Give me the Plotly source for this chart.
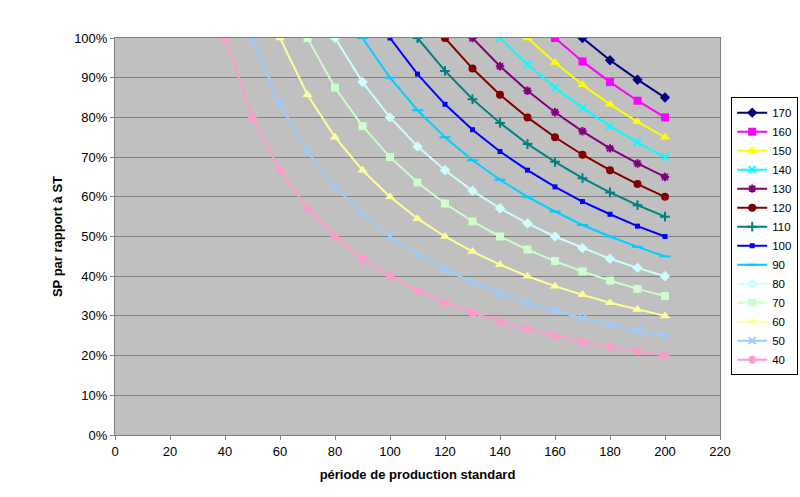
import plotly.graph_objects as go

# périodes de production standard (axe des x)
periods = [40, 50, 60, 70, 80, 90, 100, 110, 120, 130, 140, 150, 160, 170, 180, 190, 200]

# SP par rapport à ST, une série par ST (chaque série finit à 200)
series_names = ["170", "160", "150", "140", "130", "120", "110", "100", "90", "80", "70", "60", "50", "40"]
sp_170 = [1.0, 0.944, 0.895, 0.85]
sp_160 = [1.0, 0.941, 0.889, 0.842, 0.8]
sp_150 = [1.0, 0.938, 0.882, 0.833, 0.789, 0.75]
sp_140 = [1.0, 0.933, 0.875, 0.824, 0.778, 0.737, 0.7]
sp_130 = [1.0, 0.929, 0.867, 0.813, 0.765, 0.722, 0.684, 0.65]
sp_120 = [1.0, 0.923, 0.857, 0.8, 0.75, 0.706, 0.667, 0.632, 0.6]
sp_110 = [1.0, 0.917, 0.846, 0.786, 0.733, 0.688, 0.647, 0.611, 0.579, 0.55]
sp_100 = [1.0, 0.909, 0.833, 0.769, 0.714, 0.667, 0.625, 0.588, 0.556, 0.526, 0.5]
sp_90 = [1.0, 0.9, 0.818, 0.75, 0.692, 0.643, 0.6, 0.563, 0.529, 0.5, 0.474, 0.45]
sp_80 = [1.0, 0.889, 0.8, 0.727, 0.667, 0.615, 0.571, 0.533, 0.5, 0.471, 0.444, 0.421, 0.4]
sp_70 = [1.0, 0.875, 0.778, 0.7, 0.636, 0.583, 0.538, 0.5, 0.467, 0.438, 0.412, 0.389, 0.368, 0.35]
sp_60 = [1.0, 0.857, 0.75, 0.667, 0.6, 0.545, 0.5, 0.462, 0.429, 0.4, 0.375, 0.353, 0.333, 0.316, 0.3]
sp_50 = [1.0, 0.833, 0.714, 0.625, 0.556, 0.5, 0.455, 0.417, 0.385, 0.357, 0.333, 0.313, 0.294, 0.278,
         0.263, 0.25]
sp_40 = [1.0, 0.8, 0.667, 0.571, 0.5, 0.444, 0.4, 0.364, 0.333, 0.308, 0.286, 0.267, 0.25, 0.235,
         0.222, 0.211, 0.2]
series_values = [sp_170, sp_160, sp_150, sp_140, sp_130, sp_120, sp_110, sp_100, sp_90, sp_80,
                 sp_70, sp_60, sp_50, sp_40]

# style Excel : couleur, symbole, taille du marqueur
styles = [
    ("#000080", "diamond", 8),
    ("#FF00FF", "square", 8),
    ("#FFFF00", "triangle-up", 9),
    ("#00FFFF", "x-thin-open", 7),
    ("#800080", "asterisk-open", 7),
    ("#800000", "circle", 8),
    ("#008080", "cross-thin-open", 7),
    ("#0000FF", "square", 5),
    ("#00CCFF", "line-ew-open", 8),
    ("#CCFFFF", "diamond", 8),
    ("#CCFFCC", "square", 8),
    ("#FFFF99", "triangle-up", 9),
    ("#99CCFF", "x-thin-open", 7),
    ("#FF99CC", "asterisk-open", 7),
]

fig = go.Figure()
for name, vals, (col, sym, size) in zip(series_names, series_values, styles):
    xs = periods[len(periods) - len(vals):]
    open_sym = sym.endswith("open")
    fig.add_trace(go.Scatter(
        x=xs, y=vals, name=name, mode="lines+markers",
        line=dict(color=col, width=2),
        marker=dict(symbol=sym, size=size, color=col,
                    line=dict(color=col, width=2 if open_sym else 0)),
    ))

font_name = "Arial, Liberation Sans"
fig.update_layout(
    width=800, height=497,
    margin=dict(l=115, r=80, t=38, b=62),
    paper_bgcolor="white", plot_bgcolor="#C0C0C0",
    font=dict(family=font_name, size=13, color="black"),
    showlegend=True,
    legend=dict(xref="container", x=0.914, y=0.851,
                xanchor="left", yanchor="top", itemwidth=30,
                bordercolor="black", borderwidth=1, bgcolor="white",
                font=dict(family=font_name, size=11.5), tracegroupgap=0),
)
fig.update_xaxes(
    range=[0, 220], dtick=20, tick0=0,
    showgrid=False, zeroline=False, automargin=False,
    showline=True, linecolor="#808080", linewidth=1, mirror=True,
    ticks="outside", ticklen=4, tickcolor="#808080",
    title=dict(text="<b>période de production standard</b>", standoff=12,
               font=dict(size=13)),
)
fig.update_yaxes(
    range=[0, 1], dtick=0.1, tick0=0, tickformat=".0%",
    showgrid=True, gridcolor="#808080", gridwidth=1, zeroline=False, automargin=False,
    showline=True, linecolor="#808080", linewidth=1, mirror=True,
    ticks="outside", ticklen=4, tickcolor="#808080",
    title=dict(text="<b>SP par rapport à ST</b>", standoff=8, font=dict(size=13)),
)

# pas de marge de page autour du graphique, pas de barre d'outils
fig.write_html("out.html", config={"displayModeBar": False},
               post_script="document.body.style.margin = '0';")
